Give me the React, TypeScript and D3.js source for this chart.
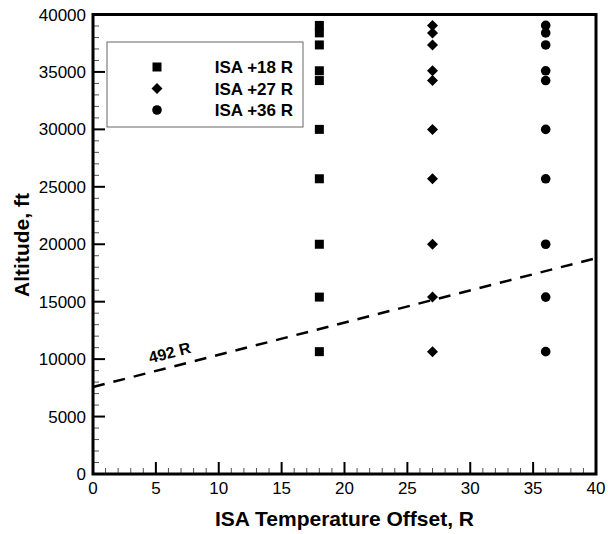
import React from "react";
import * as d3 from "d3";

const altitudes = [10650, 15400, 20000, 25700, 30000, 34250, 35100, 37350, 38400, 39050];
const series = [
  { name: "ISA +18 R", offset: 18, shape: "square", values: altitudes },
  { name: "ISA +27 R", offset: 27, shape: "diamond", values: altitudes },
  { name: "ISA +36 R", offset: 36, shape: "circle", values: altitudes },
];
const lineX = [0, 40];
const lineY = [7571, 18789];
const xTicks = [0, 5, 10, 15, 20, 25, 30, 35, 40];
const yTicks = [0, 5000, 10000, 15000, 20000, 25000, 30000, 35000, 40000];

const W = 608, H = 534;
const L = 93, R = 596, T = 14.5, B = 474;
const FONT = "'Liberation Sans', Arial, sans-serif";

function marker(shape: string, cx: number, cy: number, key?: string) {
  if (shape === "square") return <rect key={key} x={cx - 4.5} y={cy - 4.5} width={9} height={9} fill="#000" />;
  if (shape === "diamond") {
    const r = 5.5;
    return <path key={key} d={`M${cx},${cy - r}L${cx + r},${cy}L${cx},${cy + r}L${cx - r},${cy}Z`} fill="#000" />;
  }
  return <circle key={key} cx={cx} cy={cy} r={4.8} fill="#000" />;
}

export default function App() {
  const x = d3.scaleLinear().domain([0, 40]).range([L, R]);
  const y = d3.scaleLinear().domain([0, 40000]).range([B, T]);
  const xMinor = d3.range(0, 41, 1).filter((v) => v % 5 !== 0);
  const yMinor = d3.range(0, 40001, 1000).filter((v) => v % 5000 !== 0);
  const line = d3.line<number>().x((_, i) => x(lineX[i])).y((d) => y(d));
  const x0 = x(lineX[0]), y0 = y(lineY[0]), x1 = x(lineX[1]), y1 = y(lineY[1]);
  const ang = (Math.atan2(y1 - y0, x1 - x0) * 180) / Math.PI;
  const lblX = x(6.2);
  const lblY = y(lineY[0] + (lineY[1] - lineY[0]) * (6.2 / 40)) - 9;
  return (
    <svg width={W} height={H} style={{ position: "absolute", left: 0, top: 0, background: "#fff" }} fontFamily={FONT}>
      <rect width={W} height={H} fill="#fff" />
      {xMinor.map((v) => (
        <line key={"xm" + v} x1={x(v)} x2={x(v)} y1={B} y2={B - 6} stroke="#555" strokeWidth={1} />
      ))}
      {yMinor.map((v) => (
        <line key={"ym" + v} x1={L} x2={L + 6} y1={y(v)} y2={y(v)} stroke="#555" strokeWidth={1} />
      ))}
      {xTicks.map((v) => (
        <line key={"xt" + v} x1={x(v)} x2={x(v)} y1={B} y2={B - 12} stroke="#000" strokeWidth={2} />
      ))}
      {yTicks.map((v) => (
        <line key={"yt" + v} x1={L} x2={L + 12} y1={y(v)} y2={y(v)} stroke="#000" strokeWidth={2} />
      ))}
      <path d={line(lineY) || ""} fill="none" stroke="#000" strokeWidth={2.5} strokeDasharray="12,9" />
      <text x={lblX} y={lblY} fontSize={16} fontWeight="bold" textAnchor="middle" transform={`rotate(${ang},${lblX},${lblY})`}>
        492 R
      </text>
      {series.map((s) => s.values.map((v, i) => marker(s.shape, x(s.offset), y(v), s.name + i)))}
      <rect x={L} y={T} width={R - L} height={B - T} fill="none" stroke="#000" strokeWidth={3} />
      {xTicks.map((v) => (
        <text key={"xl" + v} x={x(v)} y={B + 20} fontSize={17} textAnchor="middle">{v}</text>
      ))}
      {yTicks.map((v) => (
        <text key={"yl" + v} x={L - 7} y={y(v) + 6} fontSize={17} textAnchor="end">{v}</text>
      ))}
      <text x={(L + R) / 2} y={526} fontSize={21} fontWeight="bold" textAnchor="middle">ISA Temperature Offset, R</text>
      <text x={29} y={245} fontSize={21} fontWeight="bold" textAnchor="middle" transform="rotate(-90,29,245)">Altitude, ft</text>
      <rect x={107} y={42} width={196} height={85} fill="#fff" stroke="#666" strokeWidth={1} />
      {series.map((s, i) => (
        <g key={"lg" + i}>
          {marker(s.shape, 157, 67 + i * 21.5)}
          <text x={293} y={67 + i * 21.5 + 6} fontSize={17} fontWeight="bold" textAnchor="end">{s.name}</text>
        </g>
      ))}
    </svg>
  );
}
